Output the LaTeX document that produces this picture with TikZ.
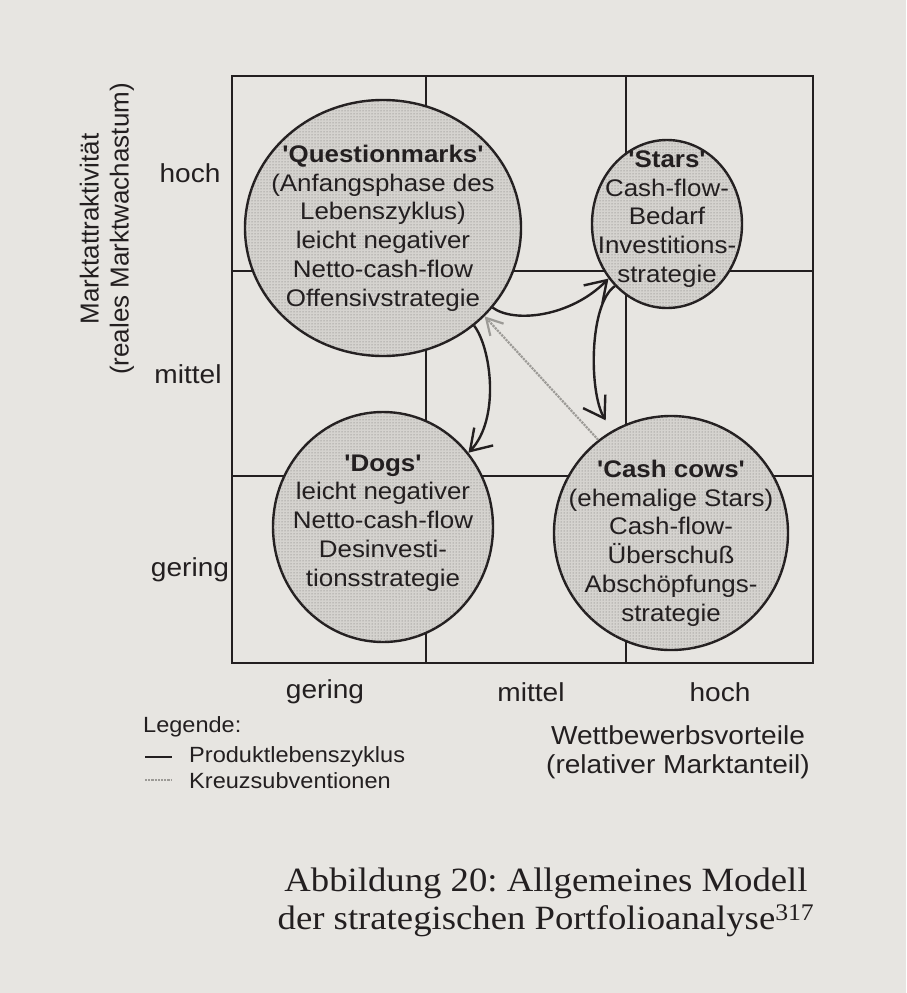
\documentclass[tikz,border=0pt]{standalone}
\usepackage{fontspec}
\setmainfont{Liberation Serif}
\setsansfont{Liberation Sans}
\usetikzlibrary{arrows.meta,shapes.geometric,patterns}
\definecolor{paper}{HTML}{E7E5E1}
\definecolor{cellfill}{HTML}{D5D3CF}
\definecolor{stipple}{HTML}{6E6C69}
\definecolor{ink}{HTML}{231F20}
\definecolor{subsidy}{HTML}{9C9A96}
\frenchspacing

\begin{document}
\begin{tikzpicture}[x=1pt,y=-1pt,
  frame/.style={draw=ink, line width=2.6pt},
  divider/.style={draw=ink, line width=2pt},
  cell/.style={ellipse, draw=ink, line width=2.4pt, fill=cellfill, inner sep=0pt,
    postaction={pattern=dots, pattern color=stipple}},
  celltext/.style={font=\sffamily\fontsize{24}{28.8}\selectfont, align=center, text=ink, inner sep=0pt, xscale=1.08},
  axislabel/.style={font=\sffamily\fontsize{26}{29}\selectfont, text=ink, inner sep=0pt, xscale=1.08},
  axistitle/.style={font=\sffamily\fontsize{26}{30}\selectfont, text=ink, inner sep=0pt, align=center},
  legendtext/.style={font=\sffamily\fontsize{22}{24}\selectfont, text=ink, inner sep=0pt, anchor=west, xscale=1.07},
  flow/.style={draw=ink, line width=2.4pt, -{Straight Barb[length=20pt,width=26pt]}},
  subsidyline/.style={draw=subsidy, line width=2.2pt, densely dotted}
]
% paper
\fill[paper] (0,0) rectangle (906,993);
\useasboundingbox (0,0) rectangle (906,993);

% 3x3 matrix
\coordinate (tl) at (232,76);
\coordinate (br) at (813,663);
\draw[divider] (232,271) -- (813,271);
\draw[divider] (232,476) -- (813,476);
\draw[divider] (426,76) -- (426,663);
\draw[divider] (626,76) -- (626,663);
\draw[frame] (tl) rectangle (br);

% portfolio fields
\node[cell, minimum width=276pt, minimum height=256pt] (qm) at (383,228) {};
\node[cell, minimum width=150pt, minimum height=168pt] (stars) at (667,224) {};
\node[cell, minimum width=220pt, minimum height=230pt] (dogs) at (383,527) {};
\node[cell, minimum width=234pt, minimum height=234pt] (cc) at (671,533) {};

\node[celltext] (qmtext) at (383,228) {\textbf{\textquotesingle Questionmarks\textquotesingle}\\(Anfangsphase des\\Lebenszyklus)\\leicht negativer\\Netto-cash-flow\\Offensivstrategie};
\node[celltext] (starstext) at (667,219) {\textbf{\textquotesingle Stars\textquotesingle}\\Cash-flow-\\Bedarf\\Investitions-\\strategie};
\node[celltext] (dogstext) at (383,523) {\textbf{\textquotesingle Dogs\textquotesingle}\\leicht negativer\\Netto-cash-flow\\Desinvesti-\\tionsstrategie};
\node[celltext] (cctext) at (671,543) {\textbf{\textquotesingle Cash cows\textquotesingle}\\(ehemalige Stars)\\Cash-flow-\\Überschuß\\Abschöpfungs-\\strategie};

% product life cycle
\draw[flow] (qm.-36) .. controls +(22,16) and +(-37,38) .. (stars.223);
\draw[flow, shorten >=12pt] (stars.230) .. controls +(-26,18) and +(-23,-38) .. (cc.120);
\draw[flow] (qm.-47) .. controls +(17,22) and +(32,-34) .. (dogs.41);

% cross subsidies
\draw[subsidyline, -{Straight Barb[length=16pt,width=18pt]}] (cc.128) -- (qm.-41);

% vertical axis
\node[axistitle, rotate=90] (yaxis) at (107,229) {Marktattraktivität\\(reales Marktwachastum)};
\node[axislabel] (yhigh) at (190,173) {hoch};
\node[axislabel] (ymid) at (188,374) {mittel};
\node[axislabel] (ylow) at (190,570) {gering};

% horizontal axis
\node[axislabel] (xlow) at (325,692) {gering};
\node[axislabel] (xmid) at (531,692) {mittel};
\node[axislabel] (xhigh) at (720,692) {hoch};
\node[axislabel, align=center] (xaxis) at (678,752) {Wettbewerbsvorteile\\(relativer Marktanteil)};

% legend
\node[legendtext] (legtitle) at (143,727) {Legende:};
\coordinate (plcA) at (145,757);
\coordinate (plcB) at (172,757);
\draw[ink, line width=1.8pt] (plcA) -- (plcB);
\node[legendtext] (plc) at (189,757) {Produktlebenszyklus};
\coordinate (subA) at (145,780);
\coordinate (subB) at (172,780);
\draw[subsidyline, line width=1.6pt] (subA) -- (subB);
\node[legendtext] (sub) at (189,781) {Kreuzsubventionen};

% caption
\node[font=\rmfamily\fontsize{34}{38}\selectfont, align=center, text=ink, xscale=1.08] (caption) at (546,902)
  {Abbildung 20: Allgemeines Modell\\der strategischen Portfolioanalyse\textsuperscript{317}};
\end{tikzpicture}
\end{document}
